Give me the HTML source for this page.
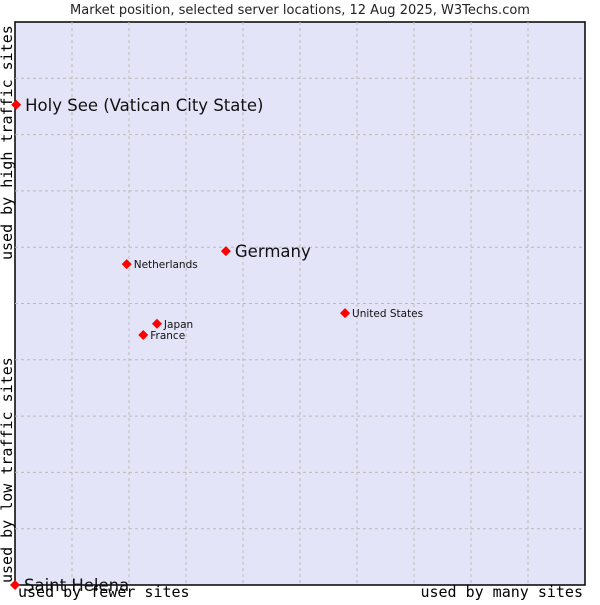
<!DOCTYPE html>
<html><head><meta charset="utf-8"><style>
body{margin:0;background:#fff;width:600px;height:600px;overflow:hidden}
svg text{font-family:"DejaVu Sans","Liberation Sans",sans-serif}
</style></head><body>
<svg id="c" width="600" height="600">
<text x="300" y="14" text-anchor="middle" font-size="13" fill="#222">Market position, selected server locations, 12 Aug 2025, W3Techs.com</text>
<rect x="15" y="22" width="570" height="563" fill="#e3e4f8" stroke="#000" stroke-width="1.5"/>
<g id="grid"></g>
<g id="pts"></g>
<text x="12" y="260" transform="rotate(-90 12 260)" font-size="15" style="font-family:'DejaVu Sans Mono',monospace">used by high traffic sites</text>
<text x="12" y="583" transform="rotate(-90 12 583)" font-size="15" style="font-family:'DejaVu Sans Mono',monospace">used by low traffic sites</text>
<text x="18" y="597" font-size="15" style="font-family:'DejaVu Sans Mono',monospace">used by fewer sites</text>
<text x="583" y="597" font-size="15" text-anchor="end" style="font-family:'DejaVu Sans Mono',monospace">used by many sites</text>
</svg>
<script>
const names=["Holy See (Vatican City State)","Germany","Netherlands","Japan","France","United States","Saint Helena"];
const xVals=[0.2,37,19.6,24.9,22.5,57.9,0];
const yVals=[85.3,59.3,57,46.4,44.4,48.3,0];
const big=[true,true,false,false,false,false,true];
const X=v=>15+v*5.7, Y=v=>585-v*5.63;
const NS="http://www.w3.org/2000/svg";
const g=document.getElementById('grid');
for(let i=1;i<10;i++){
 const l=document.createElementNS(NS,'line');
 l.setAttribute('x1',X(i*10));l.setAttribute('x2',X(i*10));l.setAttribute('y1',22);l.setAttribute('y2',585);
 l.setAttribute('stroke','#bbb');l.setAttribute('stroke-dasharray','3,3');
 
 
 g.appendChild(l);
 const h=document.createElementNS(NS,'line');
 h.setAttribute('y1',Y(i*10));h.setAttribute('y2',Y(i*10));h.setAttribute('x1',15);h.setAttribute('x2',585);
 h.setAttribute('stroke','#bbb');h.setAttribute('stroke-dasharray','3,3');
 
 
 g.appendChild(h);
}
const p=document.getElementById('pts');
names.forEach((n,i)=>{
 const x=X(xVals[i]),y=Y(yVals[i]);
 const d=document.createElementNS(NS,'path');
 d.setAttribute('d',`M${x-5},${y} L${x},${y-5} L${x+5},${y} L${x},${y+5}Z`);
 d.setAttribute('fill','#f00');
 
 
 p.appendChild(d);
 const t=document.createElementNS(NS,'text');
 t.setAttribute('x',x+(big[i]?9:7));t.setAttribute('y',y+(big[i]?6:4));
 t.setAttribute('font-size',big[i]?16.5:10.5);t.setAttribute('fill','#111');
 t.textContent=n;
 
 
 p.appendChild(t);
});
</script>
</body></html>
